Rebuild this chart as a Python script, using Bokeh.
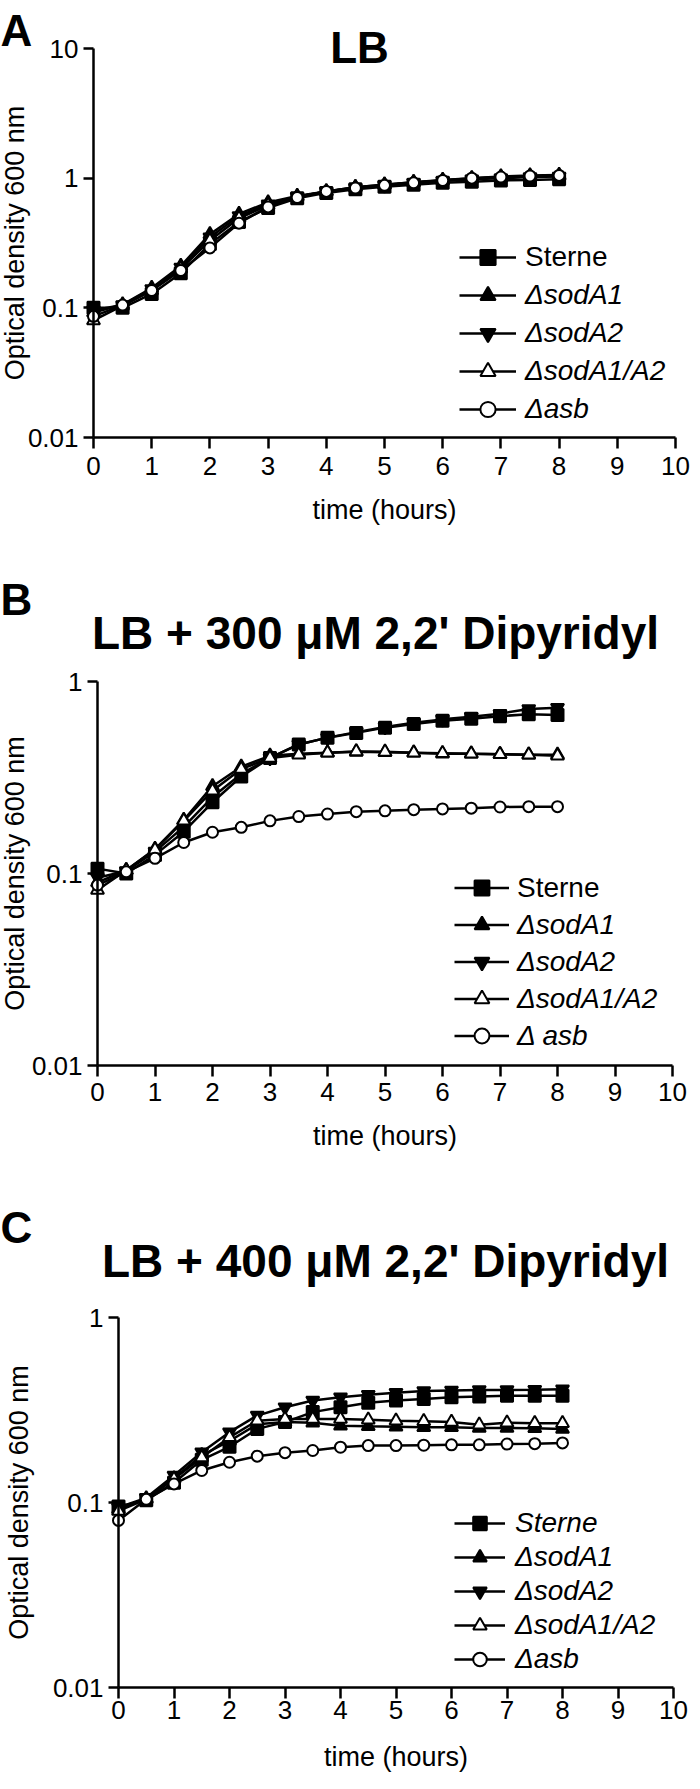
import math
from bokeh.plotting import figure
from bokeh.models import (Range1d, FixedTicker, Legend, LegendItem, Label,
                          LinearAxis, LogAxis)
from bokeh.layouts import column
from bokeh.embed import file_html
from bokeh.resources import INLINE

# ---------------- data ----------------
hours = [0, 0.5, 1, 1.5, 2, 2.5, 3, 3.5, 4, 4.5, 5, 5.5, 6, 6.5, 7, 7.5, 8]
x_ticks = [0, 1, 2, 3, 4, 5, 6, 7, 8, 9, 10]
y_ticks = [0.01, 0.1, 1, 10]
y_tick_labels = ["0.01", "0.1", "1", "10"]

# Panel A: LB
lb_sterne = [0.100, 0.100, 0.128, 0.185, 0.31, 0.46, 0.59, 0.70, 0.77, 0.82, 0.86, 0.89, 0.92, 0.94, 0.96, 0.97, 0.98]
lb_sodA1 = [0.092, 0.106, 0.142, 0.210, 0.37, 0.53, 0.65, 0.73, 0.79, 0.85, 0.89, 0.93, 0.96, 0.99, 1.01, 1.03, 1.04]
lb_sodA2 = [0.096, 0.105, 0.140, 0.205, 0.35, 0.51, 0.63, 0.72, 0.79, 0.84, 0.88, 0.92, 0.95, 0.98, 1.00, 1.02, 1.03]
lb_sodA12 = [0.080, 0.104, 0.136, 0.200, 0.33, 0.49, 0.62, 0.72, 0.79, 0.85, 0.89, 0.93, 0.97, 1.00, 1.03, 1.05, 1.06]
lb_asb = [0.086, 0.105, 0.136, 0.194, 0.29, 0.45, 0.60, 0.71, 0.79, 0.84, 0.88, 0.92, 0.96, 1.00, 1.02, 1.04, 1.05]

# Panel B: LB + 300 uM dipyridyl
d300_sterne = [0.106, 0.100, 0.125, 0.165, 0.235, 0.32, 0.40, 0.47, 0.51, 0.54, 0.575, 0.60, 0.625, 0.64, 0.66, 0.675, 0.67]
d300_sodA1 = [0.090, 0.104, 0.134, 0.190, 0.285, 0.36, 0.41, 0.42, 0.425, 0.43, 0.428, 0.425, 0.42, 0.42, 0.418, 0.416, 0.415]
d300_sodA2 = [0.095, 0.103, 0.130, 0.175, 0.25, 0.33, 0.40, 0.47, 0.51, 0.545, 0.58, 0.61, 0.635, 0.655, 0.68, 0.72, 0.73]
d300_sodA12 = [0.082, 0.104, 0.133, 0.188, 0.27, 0.35, 0.40, 0.415, 0.425, 0.432, 0.43, 0.425, 0.423, 0.42, 0.418, 0.415, 0.41]
d300_asb = [0.087, 0.102, 0.120, 0.145, 0.164, 0.174, 0.188, 0.198, 0.204, 0.210, 0.212, 0.215, 0.217, 0.219, 0.222, 0.223, 0.223]

# Panel C: LB + 400 uM dipyridyl
d400_sterne = [0.095, 0.103, 0.128, 0.170, 0.200, 0.250, 0.272, 0.308, 0.327, 0.346, 0.356, 0.363, 0.371, 0.374, 0.378, 0.378, 0.378]
d400_sodA1 = [0.092, 0.105, 0.135, 0.180, 0.215, 0.265, 0.272, 0.270, 0.260, 0.258, 0.257, 0.255, 0.255, 0.253, 0.253, 0.252, 0.250]
d400_sodA2 = [0.094, 0.106, 0.140, 0.187, 0.240, 0.295, 0.327, 0.356, 0.371, 0.382, 0.392, 0.400, 0.403, 0.405, 0.405, 0.407, 0.410]
d400_sodA12 = [0.090, 0.104, 0.134, 0.175, 0.225, 0.277, 0.283, 0.283, 0.283, 0.280, 0.277, 0.275, 0.272, 0.263, 0.270, 0.268, 0.268]
d400_asb = [0.080, 0.104, 0.126, 0.149, 0.165, 0.178, 0.186, 0.191, 0.199, 0.203, 0.203, 0.204, 0.205, 0.205, 0.207, 0.208, 0.210]

labels_a = ["Sterne", "\u0394sodA1", "\u0394sodA2", "\u0394sodA1/A2", "\u0394asb"]
labels_b = ["Sterne", "\u0394sodA1", "\u0394sodA2", "\u0394sodA1/A2", "\u0394 asb"]
labels_c = ["Sterne", "\u0394sodA1", "\u0394sodA2", "\u0394sodA1/A2", "\u0394asb"]

titles = ["LB", "LB + 300 \u03bcM 2,2' Dipyridyl", "LB + 400 \u03bcM 2,2' Dipyridyl"]
letters = ["A", "B", "C"]

# ---------------- styles ----------------
FONT = "Liberation Sans"
markers = [
    dict(marker="square", size=12, fill_color="black"),
    dict(marker="triangle", size=13, fill_color="black"),
    dict(marker="inverted_triangle", size=13, fill_color="black"),
    dict(marker="triangle", size=13, fill_color="white"),
    dict(marker="circle", size=11, fill_color="white"),
]

W = 690


def panel(series, labels, title, letter, ymax, g):
    H, L, R, T, B = g["H"], g["L"], g["R"], g["T"], g["B"]
    # map the axes box (L..R, T..B in canvas pixels) onto the data extents
    ppu = (R - L) / (x_ticks[-1] - x_ticks[0])
    x0 = x_ticks[0] - L / ppu
    x1 = x_ticks[0] + (W - L) / ppu
    lo, hi = math.log10(y_ticks[0]), math.log10(ymax)
    dec = (B - T) / (hi - lo)
    y1 = 10 ** (hi + T / dec)
    y0 = 10 ** (lo - (H - B) / dec)

    p = figure(width=W, height=H, x_range=Range1d(x0, x1), y_range=Range1d(y0, y1),
               y_axis_type="log", x_axis_location=None, y_axis_location=None,
               title=None, min_border=0, output_backend="svg", toolbar_location=None)
    p.outline_line_color = None
    p.background_fill_color = "white"
    p.border_fill_color = "white"
    p.grid.visible = False

    xaxis = LinearAxis(fixed_location=y_ticks[0], bounds=(x_ticks[0], x_ticks[-1]),
                       ticker=FixedTicker(ticks=x_ticks, minor_ticks=[]))
    yticks_here = [t for t in y_ticks if t <= ymax]
    yaxis = LogAxis(fixed_location=x_ticks[0], bounds=(y_ticks[0], ymax),
                    ticker=FixedTicker(ticks=yticks_here, minor_ticks=[]))
    yaxis.major_label_overrides = {t: s for t, s in zip(y_ticks, y_tick_labels)}
    for ax in (xaxis, yaxis):
        ax.axis_line_width = 2.5
        ax.axis_line_color = "black"
        ax.major_tick_line_width = 2.5
        ax.major_tick_line_color = "black"
        ax.major_tick_out = 11
        ax.major_tick_in = 0
        ax.minor_tick_line_color = None
        ax.major_label_text_font = FONT
        ax.major_label_text_font_size = "26px"
        ax.major_label_text_color = "black"
        ax.axis_label_text_font = FONT
        ax.axis_label_text_font_size = "27px"
        ax.axis_label_text_font_style = "normal"
        ax.axis_label_text_color = "black"
    yaxis.major_tick_out = 10
    xaxis.axis_label = "time (hours)"
    yaxis.axis_label = "Optical density 600 nm"
    xaxis.major_label_standoff = g["xls"]
    xaxis.axis_label_standoff = g["xas"]
    yaxis.major_label_standoff = 5
    yaxis.axis_label_standoff = g["yas"]
    p.add_layout(xaxis, "below")
    p.add_layout(yaxis, "left")

    rends = []
    for vals, st in zip(series, markers):
        ln = p.line(hours, vals, line_color="black", line_width=2.5)
        sc = p.scatter(hours, vals, marker=st["marker"], size=st["size"],
                       fill_color=st["fill_color"], line_color="black", line_width=2)
        rends.append([ln, sc])

    pitch = g["pitch"]
    common = dict(orientation="vertical", glyph_width=g["gw"], glyph_height=pitch,
                  label_height=pitch, label_standoff=g["ls"], spacing=0, padding=0,
                  margin=0, border_line_color=None, background_fill_alpha=0,
                  label_text_font=FONT, label_text_font_size="28px",
                  label_text_color="black", label_text_baseline="middle")
    ly = H - g["leg_bottom"]
    if g["sterne_upright"]:
        leg1 = Legend(items=[LegendItem(label=labels[0], renderers=rends[0])],
                      location=(g["lx"], ly + 4 * pitch),
                      label_text_font_style="normal", **common)
        leg2 = Legend(items=[LegendItem(label=lab, renderers=r) for lab, r in zip(labels[1:], rends[1:])],
                      location=(g["lx"], ly),
                      label_text_font_style="italic", **common)
        p.add_layout(leg1, "center")
        p.add_layout(leg2, "center")
    else:
        leg = Legend(items=[LegendItem(label=lab, renderers=r) for lab, r in zip(labels, rends)],
                     location=(g["lx"], ly),
                     label_text_font_style="italic", **common)
        p.add_layout(leg, "center")

    p.add_layout(Label(x=g["tx"], y=H - g["t_base"], x_units="screen", y_units="screen",
                       text=title, text_font=FONT, text_font_size=g["tfs"],
                       text_font_style="bold", text_align="center",
                       text_baseline="alphabetic", text_color="black"))
    p.add_layout(Label(x=0, y=H - g["l_base"], x_units="screen", y_units="screen",
                       text=letter, text_font=FONT, text_font_size="44px",
                       text_font_style="bold", text_align="left",
                       text_baseline="alphabetic", text_color="black"))
    return p


# layout constants, in canvas pixels of each panel
geo_a = dict(H=547, L=93, R=675, T=48, B=437, xls=8, xas=17, yas=-5,
             pitch=38, gw=57, ls=9, lx=459, leg_bottom=428, sterne_upright=True,
             tx=359, t_base=47, l_base=30, tfs="44px")
geo_b = dict(H=640, L=97, R=672, T=134, B=518, xls=6, xas=17, yas=-1,
             pitch=37, gw=55, ls=8, lx=454, leg_bottom=507, sterne_upright=True,
             tx=375, t_base=85, l_base=52, tfs="46px")
geo_c = dict(H=586, L=118, R=673, T=130, B=500, xls=2, xas=20, yas=16,
             pitch=34, gw=51, ls=10, lx=454, leg_bottom=489, sterne_upright=False,
             tx=385, t_base=73, l_base=40, tfs="46px")

pa = panel([lb_sterne, lb_sodA1, lb_sodA2, lb_sodA12, lb_asb], labels_a, titles[0], letters[0], 10, geo_a)
pb = panel([d300_sterne, d300_sodA1, d300_sodA2, d300_sodA12, d300_asb], labels_b, titles[1], letters[1], 1, geo_b)
pc = panel([d400_sterne, d400_sodA1, d400_sodA2, d400_sodA12, d400_asb], labels_c, titles[2], letters[2], 1, geo_c)

layout = column(pa, pb, pc, spacing=0)
open("out.html", "w").write(file_html(layout, INLINE, title="Growth curves"))
